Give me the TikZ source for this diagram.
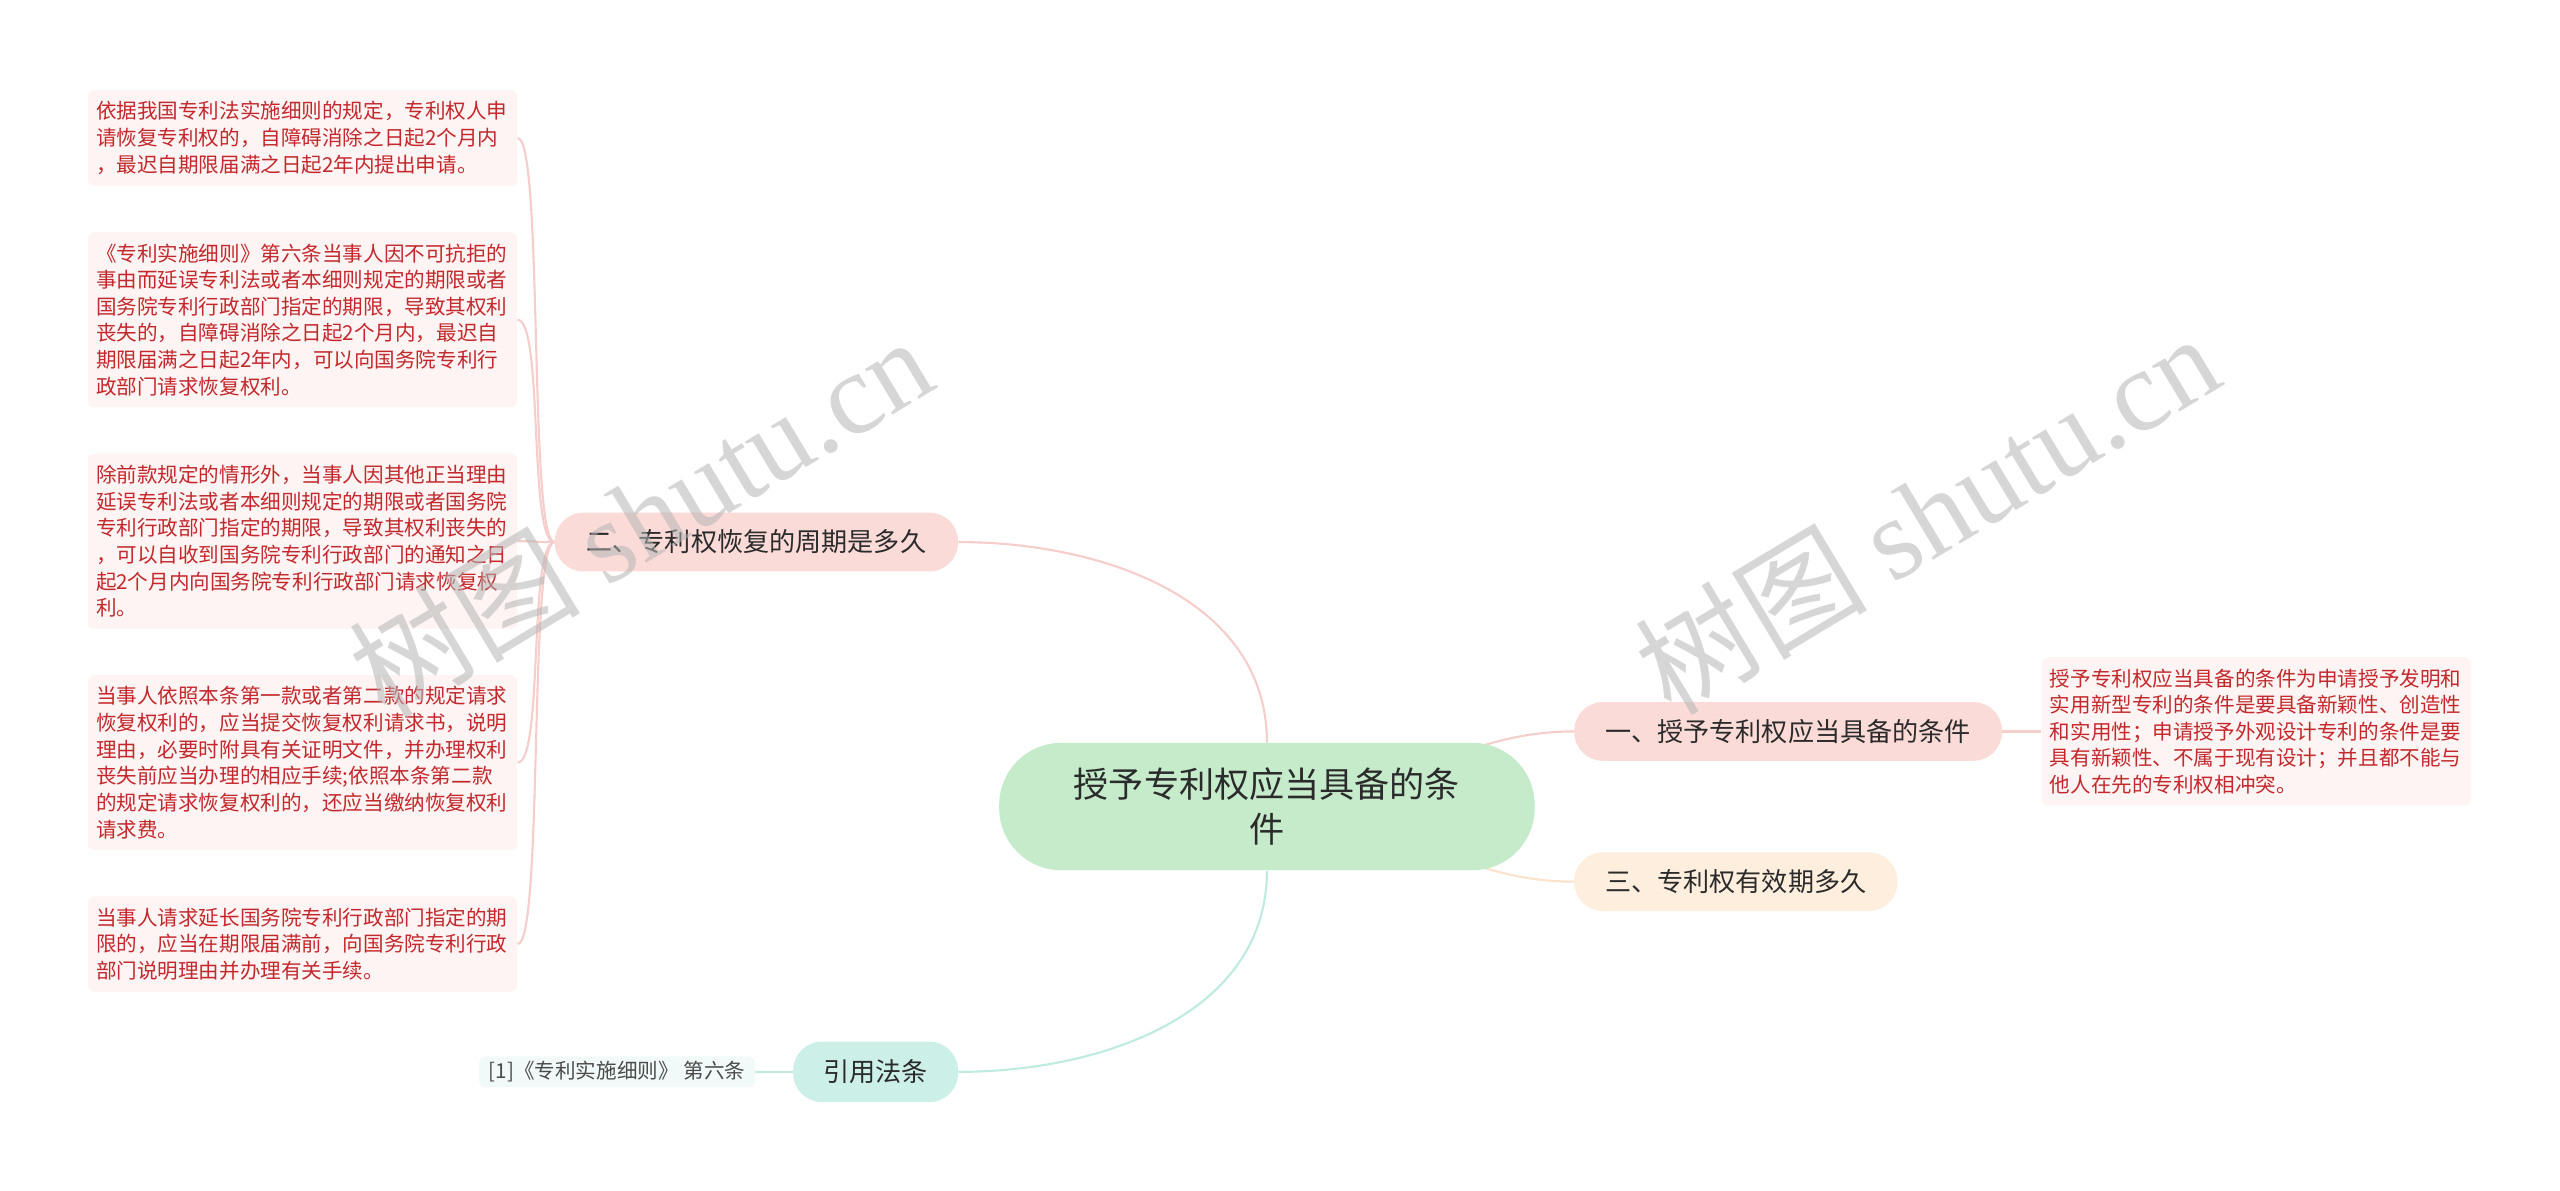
\documentclass[tikz,border=0pt]{standalone}
\usepackage{fontspec}
\setmainfont{Noto Sans CJK SC}
\newfontfamily\wmfont{Liberation Serif}
\usepackage{tikz}
\usetikzlibrary{positioning,backgrounds}
\definecolor{rootgreen}{HTML}{C5EBCB}
\definecolor{rosefill}{HTML}{FADBD8}
\definecolor{peachfill}{HTML}{FDEEDD}
\definecolor{mintfill}{HTML}{CCF0E8}
\definecolor{leafrose}{HTML}{FDF4F3}
\definecolor{leafmint}{HTML}{F1FAF8}
\definecolor{roseline}{HTML}{F5CECB}
\definecolor{mintline}{HTML}{BFEADF}
\definecolor{peachline}{HTML}{FBE3CB}
\definecolor{leafred}{HTML}{C4282C}
\definecolor{ink}{HTML}{2B2B2B}
\definecolor{wmgray}{HTML}{B5B5B5}
\tikzset{
  rootnode/.style={
    rectangle, fill=rootgreen, rounded corners=38pt,
    minimum width=328pt, minimum height=78pt,
    text width=240pt, align=center, text=ink,
    font=\fontsize{21.5pt}{28pt}\selectfont
  },
  topicnode/.style={
    rectangle, fill=#1, rounded corners=17.5pt,
    minimum height=36pt, inner xsep=0pt, text=ink,
    font=\fontsize{16pt}{19pt}\selectfont
  },
  topicnode/.default=rosefill,
  leafnode/.style={
    rectangle, fill=leafrose, rounded corners=4pt,
    text width=253pt, inner xsep=5pt, inner ysep=7pt,
    align=left, text=leafred,
    font=\fontsize{12.6pt}{16.3pt}\selectfont
  },
  citenode/.style={
    rectangle, fill=leafmint, rounded corners=4pt,
    inner xsep=6pt, inner ysep=3pt, text=ink!85,
    font=\fontsize{12.6pt}{15pt}\selectfont
  },
  branch/.style={
    line width=1.3pt, color=#1
  },
  branch/.default=roseline,
  watermark/.style={
    rotate=31, text=wmgray, opacity=0.55,
    font=\fontsize{71pt}{71pt}\selectfont
  },
}
\begin{document}
\begin{tikzpicture}[x=1pt, y=1pt, node distance=28pt and 24pt]
  \useasboundingbox (0,0) rectangle (1568,-729);

  \node[rootnode] (root) at (776,-494) {授予专利权应当具备的条\\件};

  \node[topicnode, minimum width=247pt, anchor=east] (recov)
    at (587,-332) {二、专利权恢复的周期是多久};
  \node[topicnode, minimum width=262pt, anchor=west] (cond)
    at (964,-448) {一、授予专利权应当具备的条件};
  \node[topicnode=peachfill, minimum width=198pt, anchor=west] (term)
    at (964,-540) {三、专利权有效期多久};
  \node[topicnode=mintfill, minimum width=101pt, minimum height=37pt,
    anchor=east] (cite) at (587,-656.5) {引用法条};

  \node[leafnode, anchor=north east] (r1) at (317,-55)
    {依据我国专利法实施细则的规定，专利权人申\\
     请恢复专利权的，自障碍消除之日起2个月内\\
     ，最迟自期限届满之日起2年内提出申请。};
  \node[leafnode, below=of r1] (r2)
    {《专利实施细则》第六条当事人因不可抗拒的\\
     事由而延误专利法或者本细则规定的期限或者\\
     国务院专利行政部门指定的期限，导致其权利\\
     丧失的，自障碍消除之日起2个月内，最迟自\\
     期限届满之日起2年内，可以向国务院专利行\\
     政部门请求恢复权利。};
  \node[leafnode, below=of r2] (r3)
    {除前款规定的情形外，当事人因其他正当理由\\
     延误专利法或者本细则规定的期限或者国务院\\
     专利行政部门指定的期限，导致其权利丧失的\\
     ，可以自收到国务院专利行政部门的通知之日\\
     起2个月内向国务院专利行政部门请求恢复权\\
     利。};
  \node[leafnode, below=of r3] (r4)
    {当事人依照本条第一款或者第二款的规定请求\\
     恢复权利的，应当提交恢复权利请求书，说明\\
     理由，必要时附具有关证明文件，并办理权利\\
     丧失前应当办理的相应手续;依照本条第二款\\
     的规定请求恢复权利的，还应当缴纳恢复权利\\
     请求费。};
  \node[leafnode, below=of r4] (r5)
    {当事人请求延长国务院专利行政部门指定的期\\
     限的，应当在期限届满前，向国务院专利行政\\
     部门说明理由并办理有关手续。};

  \node[leafnode, right=of cond] (c1)
    {授予专利权应当具备的条件为申请授予发明和\\
     实用新型专利的条件是要具备新颖性、创造性\\
     和实用性；申请授予外观设计专利的条件是要\\
     具有新颖性、不属于现有设计；并且都不能与\\
     他人在先的专利权相冲突。};

  \node[citenode, left=23pt of cite] (s1) {[1]《专利实施细则》 第六条};

  \begin{scope}[on background layer]
    \draw[branch] (root.north) to[out=90, in=0] (recov.east);
    \draw[branch] (root.center) to[out=0, in=180] (cond.west);
    \draw[branch=peachline] (root.center) to[out=0, in=180] (term.west);
    \draw[branch=mintline] (root.south) to[out=-90, in=0] (cite.east);
    \foreach \k in {r1,r2,r3,r4,r5}
      \draw[branch] (recov.west) .. controls +(-16,0) and +(16,0) .. (\k.east);
    \draw[branch] (cond.east) -- (c1.west);
    \draw[branch=mintline] (cite.west) -- (s1.east);
  \end{scope}

  \node[watermark] (wm1) at (392,-316) {树图 {\wmfont shutu.cn}};
  \node[watermark] (wm2) at (1180,-314) {树图 {\wmfont shutu.cn}};
\end{tikzpicture}
\end{document}
